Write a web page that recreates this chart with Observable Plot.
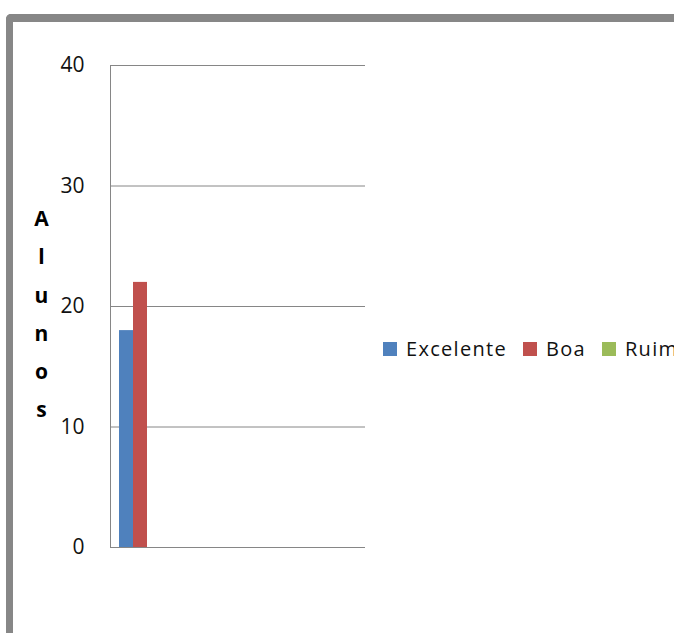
<!DOCTYPE html>
<html>
<head>
<meta charset="utf-8">
<script src="https://cdn.jsdelivr.net/npm/d3@7"></script>
<script src="https://cdn.jsdelivr.net/npm/@observablehq/plot@0.6"></script>
<style>
  html, body { margin: 0; padding: 0; background: #fff; }
  #wrap { position: relative; width: 674px; height: 633px; overflow: hidden; background: #fff; }
  #border { position: absolute; left: 6px; top: 14px; width: 800px; height: 800px;
            border-left: 7px solid #878787; border-top: 8px solid #878787; border-top-left-radius: 5px; }
  #chart { position: absolute; left: 0; top: 0; }
  #legend { position: absolute; left: 383px; top: 335px; display: flex; align-items: center;
            font-family: "Open Sans", sans-serif; font-size: 20px; letter-spacing: 1.3px; color: #111; white-space: nowrap; }
  .item { display: flex; align-items: center; margin-right: 16px; }
  .sw { width: 14px; height: 14px; margin-right: 9px; display: inline-block; }
</style>
</head>
<body>
<div id="wrap">
  <div id="border"></div>
  <div id="chart"></div>
  <div id="legend"></div>
</div>
<script>
const categories = ["Excelente", "Boa", "Ruim"];
const values = [18, 22, 0];
const colors = ["#4F81BD", "#C0504D", "#9BBB59"];
const yTicks = [0, 10, 20, 30, 40];
const yLabel = "Alunos";

const data = categories.map((c, i) => ({cat: c, val: values[i]}));

const chart = Plot.plot({
  width: 674,
  height: 633,
  marginTop: 65,
  marginBottom: 86,
  marginLeft: 110,
  marginRight: 309,
  style: {fontFamily: "'Open Sans', sans-serif", background: "transparent"},
  x: {domain: categories, range: [119, 161], padding: 0, axis: null},
  y: {domain: [0, 40], ticks: yTicks, axis: null},
  color: {domain: categories, range: colors},
  marks: [
    Plot.ruleY(yTicks, {stroke: "#868686", strokeWidth: 1}),
    Plot.frame({anchor: "left", stroke: "#868686"}),
    Plot.barY(data, {x: "cat", y: "val", fill: "cat", inset: 0}),
    Plot.axisY({ticks: yTicks, tickSize: 0, tickPadding: 26, fontSize: 21, fill: "#111", label: null}),
    Plot.text([yLabel.split("").join("\n")], {
      frameAnchor: "left", dx: -69, dy: 3, lineHeight: 1.82,
      fontSize: 21, fontWeight: "bold", fill: "#000", textAnchor: "middle"
    })
  ]
});
document.getElementById("chart").appendChild(chart);

const legend = d3.select("#legend");
categories.forEach((c, i) => {
  const it = legend.append("div").attr("class", "item");
  it.append("span").attr("class", "sw").style("background", colors[i]);
  it.append("span").text(c);
});
</script>
</body>
</html>
